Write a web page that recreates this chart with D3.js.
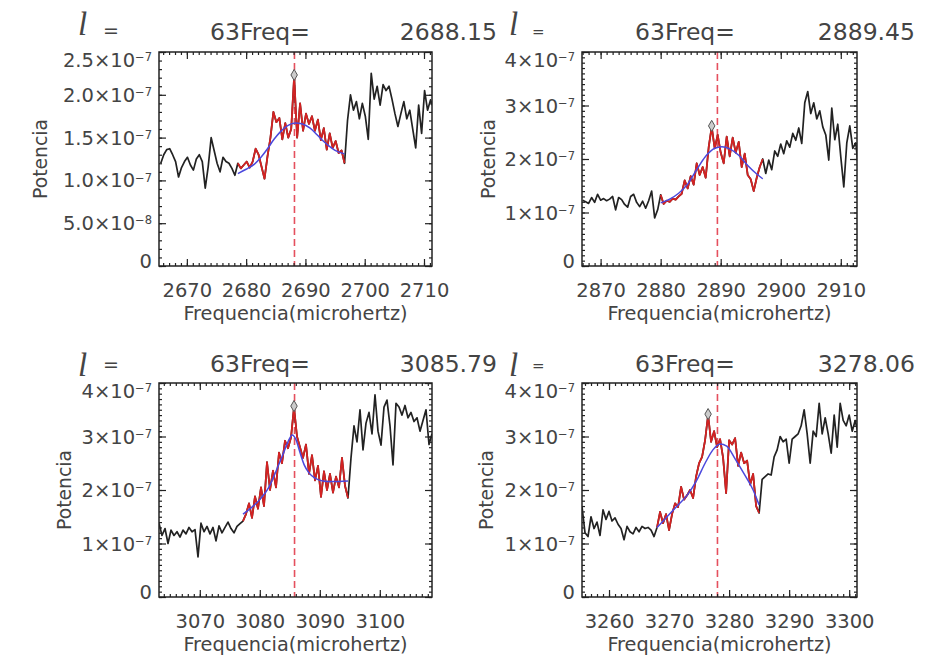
<!DOCTYPE html>
<html>
<head>
<meta charset="utf-8">
<script src="https://cdn.jsdelivr.net/npm/d3@7"></script>
<style>
    body { margin: 0; background: #fff; }
    text { font-family: "DejaVu Sans", sans-serif; fill: #444; }
</style>
</head>
<body>
<div id="chart"></div>
<script>
// power spectra, values in units of 1e-7, sampled every stepFreq microhertz from startFreq
var startFreq = [2665.6, 2867.0, 3063.2, 3255.5];
var stepFreq = 0.5;

var power1 = [1.20, 1.30, 1.36, 1.37, 1.30, 1.22, 1.04, 1.15, 1.22, 1.27,
    1.18, 1.12, 1.25, 1.30, 1.22, 0.91, 1.16, 1.50, 1.35, 1.20,
    1.10, 1.27, 1.22, 1.20, 1.14, 1.06, 1.20, 1.14, 1.18, 1.22,
    1.15, 1.22, 1.37, 1.30, 1.16, 1.02, 1.28, 1.50, 1.80, 1.68,
    1.73, 1.48, 1.67, 1.50, 1.60, 2.22, 1.50, 1.90, 1.58, 1.78,
    1.66, 1.75, 1.58, 1.71, 1.47, 1.61, 1.36, 1.55, 1.38, 1.46,
    1.32, 1.35, 1.20, 1.70, 2.00, 1.82, 1.92, 1.72, 1.90, 1.75,
    1.48, 2.25, 1.95, 2.10, 1.88, 2.12, 2.05, 2.10, 1.95, 1.78,
    1.63, 1.78, 1.92, 1.72, 1.82, 1.60, 1.38, 1.88, 1.55, 2.05,
    1.82, 1.94, 1.85];

var power2 = [1.23, 1.20, 1.17, 1.28, 1.19, 1.34, 1.23, 1.26, 1.22, 1.25,
    1.30, 1.05, 1.28, 1.24, 1.15, 1.10, 1.30, 1.34, 1.19, 1.11,
    1.21, 1.08, 1.22, 1.40, 0.90, 1.05, 1.33, 1.16, 1.22, 1.20,
    1.26, 1.24, 1.30, 1.35, 1.60, 1.45, 1.68, 1.52, 1.92, 1.70,
    1.85, 1.65, 2.22, 2.60, 2.20, 2.45, 2.12, 1.92, 2.42, 2.05,
    2.40, 2.12, 2.32, 1.85, 2.10, 1.70, 1.62, 1.40, 1.65, 1.85,
    2.00, 1.73, 1.98, 1.80, 2.15, 2.05, 2.28, 2.10, 2.34, 2.22,
    2.48, 2.35, 2.58, 2.29, 3.05, 3.26, 2.85, 3.05, 2.75, 2.90,
    2.60, 2.45, 1.98, 2.95, 2.36, 2.65, 2.04, 1.48, 2.30, 2.62,
    2.20, 2.30, 1.75];

var power3 = [1.38, 1.15, 1.28, 1.00, 1.25, 1.15, 1.22, 1.12, 1.25, 1.18,
    1.30, 1.22, 1.26, 0.75, 1.38, 1.22, 1.32, 1.18, 1.30, 1.05,
    1.33, 1.20, 1.30, 1.40, 1.28, 1.20, 1.32, 1.37, 1.42, 1.55,
    1.75, 1.48, 1.88, 1.65, 2.05, 1.70, 2.52, 2.00, 2.36, 2.05,
    2.70, 2.50, 2.92, 2.78, 2.98, 3.55, 3.00, 2.80, 2.60, 2.85,
    2.30, 2.65, 2.18, 2.45, 1.87, 2.35, 2.00, 2.30, 1.95, 2.25,
    2.05, 2.60, 2.08, 1.85, 2.60, 3.20, 2.90, 3.50, 2.75, 3.25,
    3.45, 3.05, 3.78, 3.10, 2.84, 3.55, 3.68, 3.20, 2.47, 3.62,
    3.55, 3.40, 3.58, 3.35, 3.45, 3.28, 3.35, 3.10, 3.30, 3.50,
    2.85, 3.05];

var power4 = [1.69, 1.20, 1.13, 1.50, 1.28, 1.40, 1.15, 1.63, 1.45, 1.60,
    1.42, 1.48, 1.36, 1.28, 1.07, 1.32, 1.22, 1.18, 1.30, 1.22,
    1.32, 1.28, 1.30, 1.25, 1.13, 1.30, 1.59, 1.38, 1.55, 1.25,
    1.55, 1.75, 1.68, 2.06, 1.82, 1.90, 2.00, 1.85, 2.25, 2.50,
    2.62, 2.93, 3.40, 2.90, 3.10, 2.80, 2.95, 2.60, 1.94, 2.93,
    2.85, 2.97, 2.45, 2.70, 2.50, 2.55, 2.10, 2.30, 1.70, 1.57,
    2.20, 2.25, 2.30, 2.28, 2.62, 2.75, 3.00, 2.90, 2.95, 2.50,
    2.95, 3.00, 3.05, 3.20, 3.50, 3.05, 2.50, 3.10, 3.00, 3.62,
    3.05, 3.35, 3.05, 2.69, 3.40, 2.80, 3.62, 3.30, 3.20, 3.40,
    3.10, 3.30, 3.05];

// frequency window used for the fit (drawn red)
var fitWindow = [[2678.6, 2696.6], [2880.0, 2897.0], [3077.2, 3094.7], [3268.0, 3285.0]];

// fitted profile, [freq, power]
var fit1 = [[2678.6, 1.08], [2680.0, 1.13], [2681.4, 1.19], [2682.5, 1.27], [2683.6, 1.37],
    [2684.7, 1.48], [2685.8, 1.57], [2687.0, 1.64], [2688.3, 1.67], [2689.5, 1.66],
    [2690.8, 1.61], [2692.0, 1.53], [2693.0, 1.46], [2694.0, 1.40], [2695.0, 1.35], [2696.6, 1.31]];
var fit2 = [[2880.0, 1.18], [2881.5, 1.25], [2883.0, 1.36], [2884.5, 1.53], [2886.0, 1.80],
    [2887.5, 2.05], [2889.0, 2.20], [2890.2, 2.23], [2891.5, 2.19], [2893.0, 2.07],
    [2894.5, 1.88], [2896.0, 1.72], [2897.0, 1.63]];
var fit3 = [[3077.2, 1.55], [3078.5, 1.66], [3080.0, 1.82], [3081.5, 2.05], [3082.7, 2.35],
    [3083.8, 2.65], [3084.7, 2.90], [3085.4, 3.03], [3086.0, 2.95], [3086.7, 2.70],
    [3087.4, 2.47], [3088.2, 2.32], [3089.2, 2.22], [3090.5, 2.17], [3092.0, 2.16], [3094.7, 2.17]];
var fit4 = [[3268.0, 1.30], [3269.5, 1.48], [3271.5, 1.72], [3273.0, 1.90], [3274.5, 2.16],
    [3276.0, 2.50], [3277.3, 2.75], [3278.5, 2.86], [3279.6, 2.82], [3281.0, 2.58],
    [3282.5, 2.30], [3284.0, 2.00], [3285.0, 1.72]];

var modeDegree = ['63', '63', '63', '63'];
var modeFreq = ['2688.15', '2889.45', '3085.79', '3278.06'];

var xDomain = [[2665.3, 2711.35], [2866.9, 2912.7], [3063.2, 3108.7], [3255.5, 3301.3]];
var xTicks = [[2670, 2680, 2690, 2700, 2710], [2870, 2880, 2890, 2900, 2910],
    [3070, 3080, 3090, 3100], [3260, 3270, 3280, 3290, 3300]];
var yMax = [2.5, 4, 4, 4];
var yTicks = [[0, 0.5, 1, 1.5, 2, 2.5], [0, 1, 2, 3, 4], [0, 1, 2, 3, 4], [0, 1, 2, 3, 4]];
var yTickMant = [['0', '5.0', '1.0', '1.5', '2.0', '2.5'], ['0', '1', '2', '3', '4'],
    ['0', '1', '2', '3', '4'], ['0', '1', '2', '3', '4']];
var yTickExp = [['', '-8', '-7', '-7', '-7', '-7'], ['', '-7', '-7', '-7', '-7'],
    ['', '-7', '-7', '-7', '-7'], ['', '-7', '-7', '-7', '-7']];

var powers = [power1, power2, power3, power4];
var fits = [fit1, fit2, fit3, fit4];

var boxes = [
    {left: 159, right: 432, top: 52, bottom: 266},
    {left: 582, right: 857, top: 52, bottom: 266},
    {left: 159, right: 432, top: 383, bottom: 597},
    {left: 582, right: 857, top: 383, bottom: 597}
];
var titles = [
    {l: 78, eq: 103, eqSize: 19, mid: 260, val: 497, lBase: 35, eqBase: 37, base: 40, ylab: 40},
    {l: 509, eq: 532, eqSize: 15, mid: 685, val: 915, lBase: 35, eqBase: 37, base: 40, ylab: 488},
    {l: 78, eq: 103, eqSize: 19, mid: 260, val: 497, lBase: 376, eqBase: 371, base: 372, ylab: 64},
    {l: 509, eq: 532, eqSize: 15, mid: 685, val: 915, lBase: 376, eqBase: 371, base: 372, ylab: 486}
];

var svg = d3.select('#chart')
    .append('svg')
    .attr('width', 925)
    .attr('height', 660);

svg.append('rect').attr('width', 925).attr('height', 660).attr('fill', '#fff');

function drawPanel(p) {
    var b = boxes[p];
    var t = titles[p];
    var x = d3.scaleLinear().domain(xDomain[p]).range([b.left, b.right]);
    var y = d3.scaleLinear().domain([0, yMax[p]]).range([b.bottom, b.top]);

    var data = powers[p].map(function (v, i) {
        return {f: startFreq[p] + i * stepFreq, v: v};
    });
    var red = data.filter(function (d) {
        return d.f >= fitWindow[p][0] - 1e-6 && d.f <= fitWindow[p][1] + 1e-6;
    });
    var peak = red.reduce(function (a, d) { return d.v > a.v ? d : a; }, red[0]);

    svg.append('clipPath').attr('id', 'clip' + p)
        .append('rect')
        .attr('x', b.left).attr('y', b.top)
        .attr('width', b.right - b.left).attr('height', b.bottom - b.top);

    var g = svg.append('g');
    var plot = g.append('g').attr('clip-path', 'url(#clip' + p + ')');

    var line = d3.line()
        .x(function (d) { return x(d.f); })
        .y(function (d) { return y(d.v); });

    // dashed line at mode frequency
    plot.append('line')
        .attr('x1', x(+modeFreq[p])).attr('x2', x(+modeFreq[p]))
        .attr('y1', b.top).attr('y2', b.bottom)
        .attr('stroke', '#e5505e')
        .attr('stroke-width', 1.6)
        .attr('stroke-dasharray', '7,4');

    plot.append('path')
        .datum(data)
        .attr('d', line)
        .attr('fill', 'none')
        .attr('stroke', '#222')
        .attr('stroke-width', 1.7)
        .attr('stroke-linejoin', 'round');

    plot.append('path')
        .datum(red)
        .attr('d', line)
        .attr('fill', 'none')
        .attr('stroke', '#d42222')
        .attr('stroke-width', 1.8)
        .attr('stroke-linejoin', 'round');

    var fitLine = d3.line()
        .x(function (d) { return x(d[0]); })
        .y(function (d) { return y(d[1]); })
        .curve(d3.curveMonotoneX);

    plot.append('path')
        .datum(fits[p])
        .attr('d', fitLine)
        .attr('fill', 'none')
        .attr('stroke', '#4b48dd')
        .attr('stroke-width', 1.5);

    g.append('path')
        .attr('d', d3.symbol().type(d3.symbolDiamond).size(36))
        .attr('transform', 'translate(' + x(peak.f) + ',' + (y(peak.v) - 1) + ')')
        .attr('fill', '#ccc')
        .attr('stroke', '#555')
        .attr('stroke-width', 1);

    // axes: ticks point inward on all four sides
    var minorX = d3.range(Math.ceil(xDomain[p][0]), xDomain[p][1], 1);
    var minorY = d3.range(0, yMax[p] + 1e-9, 0.1);

    var bottom = g.append('g').attr('transform', 'translate(0,' + b.bottom + ')');
    bottom.append('g').call(d3.axisBottom(x).tickValues(minorX).tickSize(-3).tickFormat(''));
    bottom.append('g').call(d3.axisBottom(x).tickValues(xTicks[p]).tickSize(-7)
        .tickPadding(17).tickFormat(d3.format('d')));

    var top = g.append('g').attr('transform', 'translate(0,' + b.top + ')');
    top.append('g').call(d3.axisTop(x).tickValues(minorX).tickSize(-3).tickFormat(''));
    top.append('g').call(d3.axisTop(x).tickValues(xTicks[p]).tickSize(-7).tickFormat(''));

    var left = g.append('g').attr('transform', 'translate(' + b.left + ',0)');
    left.append('g').call(d3.axisLeft(y).tickValues(minorY).tickSize(-3).tickFormat(''));
    left.append('g').call(d3.axisLeft(y).tickValues(yTicks[p]).tickSize(-7).tickFormat(''));

    var right = g.append('g').attr('transform', 'translate(' + b.right + ',0)');
    right.append('g').call(d3.axisRight(y).tickValues(minorY).tickSize(-3).tickFormat(''));
    right.append('g').call(d3.axisRight(y).tickValues(yTicks[p]).tickSize(-7).tickFormat(''));

    g.selectAll('.domain').remove();
    g.selectAll('.tick line').attr('stroke', '#222').attr('stroke-width', 1.2);
    bottom.selectAll('.tick text')
        .attr('fill', '#444')
        .style('font-size', '19.5px');

    // y tick labels with superscript exponents; end labels sit inside the box height
    var nT = yTicks[p].length;
    yTicks[p].forEach(function (v, i) {
        var shift = i === 0 ? -5 : (i === nT - 1 ? 8 : 0);
        var lab = g.append('text')
            .attr('x', b.left - 7)
            .attr('y', y(v) + shift)
            .attr('dy', '0.36em')
            .attr('text-anchor', 'end')
            .style('font-size', '19.5px');
        if (yTickExp[p][i] === '') {
            lab.text(yTickMant[p][i]);
        } else {
            lab.append('tspan').text(yTickMant[p][i] + '\u00d710');
            lab.append('tspan')
                .attr('dy', '-0.5em')
                .style('font-size', '11.5px')
                .text(yTickExp[p][i].replace('-', '\u2212'));
        }
    });

    g.append('rect')
        .attr('x', b.left).attr('y', b.top)
        .attr('width', b.right - b.left).attr('height', b.bottom - b.top)
        .attr('fill', 'none')
        .attr('stroke', '#222')
        .attr('stroke-width', 1.5);

    // axis titles
    g.append('text')
        .attr('x', (b.left + b.right) / 2)
        .attr('y', b.bottom + 54)
        .attr('text-anchor', 'middle')
        .style('font-size', '19.3px')
        .text('Frequencia(microhertz)');

    g.append('text')
        .attr('transform', 'translate(' + t.ylab + ',' + ((b.top + b.bottom) / 2) + ') rotate(-90)')
        .attr('dy', '0.36em')
        .attr('text-anchor', 'middle')
        .style('font-size', '18.8px')
        .text('Potencia');

    // panel title
    g.append('text')
        .attr('x', t.l)
        .attr('y', t.lBase)
        .style('font-family', '"Liberation Serif", serif')
        .style('font-style', 'italic')
        .style('font-size', '33px')
        .attr('fill', '#333')
        .text('l');
    g.append('text')
        .attr('x', t.eq)
        .attr('y', t.eqBase)
        .style('font-size', t.eqSize + 'px')
        .text('=');
    g.append('text')
        .attr('x', t.mid)
        .attr('y', t.base)
        .attr('text-anchor', 'middle')
        .style('font-size', '23.5px')
        .attr('fill', '#555')
        .text(modeDegree[p] + 'Freq=');
    g.append('text')
        .attr('x', t.val)
        .attr('y', t.base)
        .attr('text-anchor', 'end')
        .style('font-size', '23.5px')
        .attr('fill', '#555')
        .text(modeFreq[p]);
}

for (var p = 0; p < 4; p++) {
    drawPanel(p);
}
</script>
</body>
</html>
